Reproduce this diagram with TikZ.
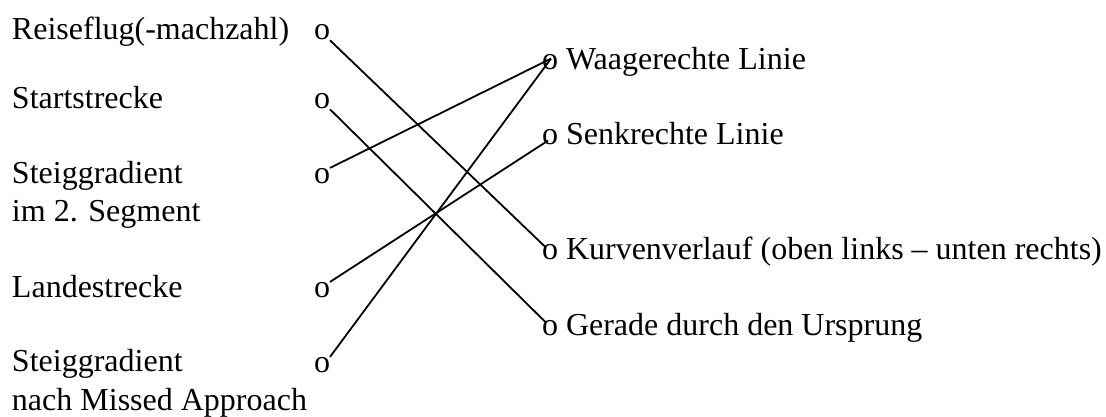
\documentclass[tikz,border=0pt]{standalone}
\usepackage{fontspec}
\setmainfont{Liberation Serif}
\usetikzlibrary{calc}
\begin{document}
\begin{tikzpicture}[x=1pt,y=-1pt,
  every node/.style={inner sep=0pt, outer sep=0pt, font=\fontsize{32}{37}\selectfont},
  item/.style={anchor=base west},
  pin/.style={anchor=base},
  link/.style={line width=1.8pt}]
\useasboundingbox (0,0) rectangle (1106,417);

% left column: quantities
\node[item] (t1)  at (12,40)  {Reiseflug(-machzahl)};
\node[item] (t2)  at (12,109) {Startstrecke};
\node[item] (t3)  at (12,183) {Steiggradient};
\node[item] (t3b) at (12,222) {im 2. Segment};
\node[item] (t4)  at (12,297) {Landestrecke};
\node[item] (t5)  at (12,371) {Steiggradient};
\node[item] (t5b) at (12,410) {nach Missed Approach};

\node[pin] (l1) at (322,40)  {o};
\node[pin] (l2) at (322,109) {o};
\node[pin] (l3) at (322,183) {o};
\node[pin] (l4) at (322,297) {o};
\node[pin] (l5) at (322,372) {o};

% right column: curve shapes
\node[pin] (r1) at (550,70)  {o};
\node[pin] (r2) at (550,145) {o};
\node[pin] (r3) at (550,259) {o};
\node[pin] (r4) at (550,335) {o};

\node[item] (s1) at (566,70)  {Waagerechte Linie};
\node[item] (s2) at (566,145) {Senkrechte Linie};
\node[item] (s3) at (566,259) {Kurvenverlauf (oben links – unten rechts)};
\node[item] (s4) at (566,335) {Gerade durch den Ursprung};

% connections
\draw[link] (l1.south east) -- ($(r3.center)+(-4,-4)$);
\draw[link] (l2.south east) -- ($(r4.center)+(-4,-5)$);
\draw[link] (l3.north east) -- ($(r1.center)+(1,-4)$);
\draw[link] (l4.north east) -- ($(r2.center)+(-2,3)$);
\draw[link] (l5.north east) -- ($(r1.center)+(1,-4)$);
\end{tikzpicture}
\end{document}
